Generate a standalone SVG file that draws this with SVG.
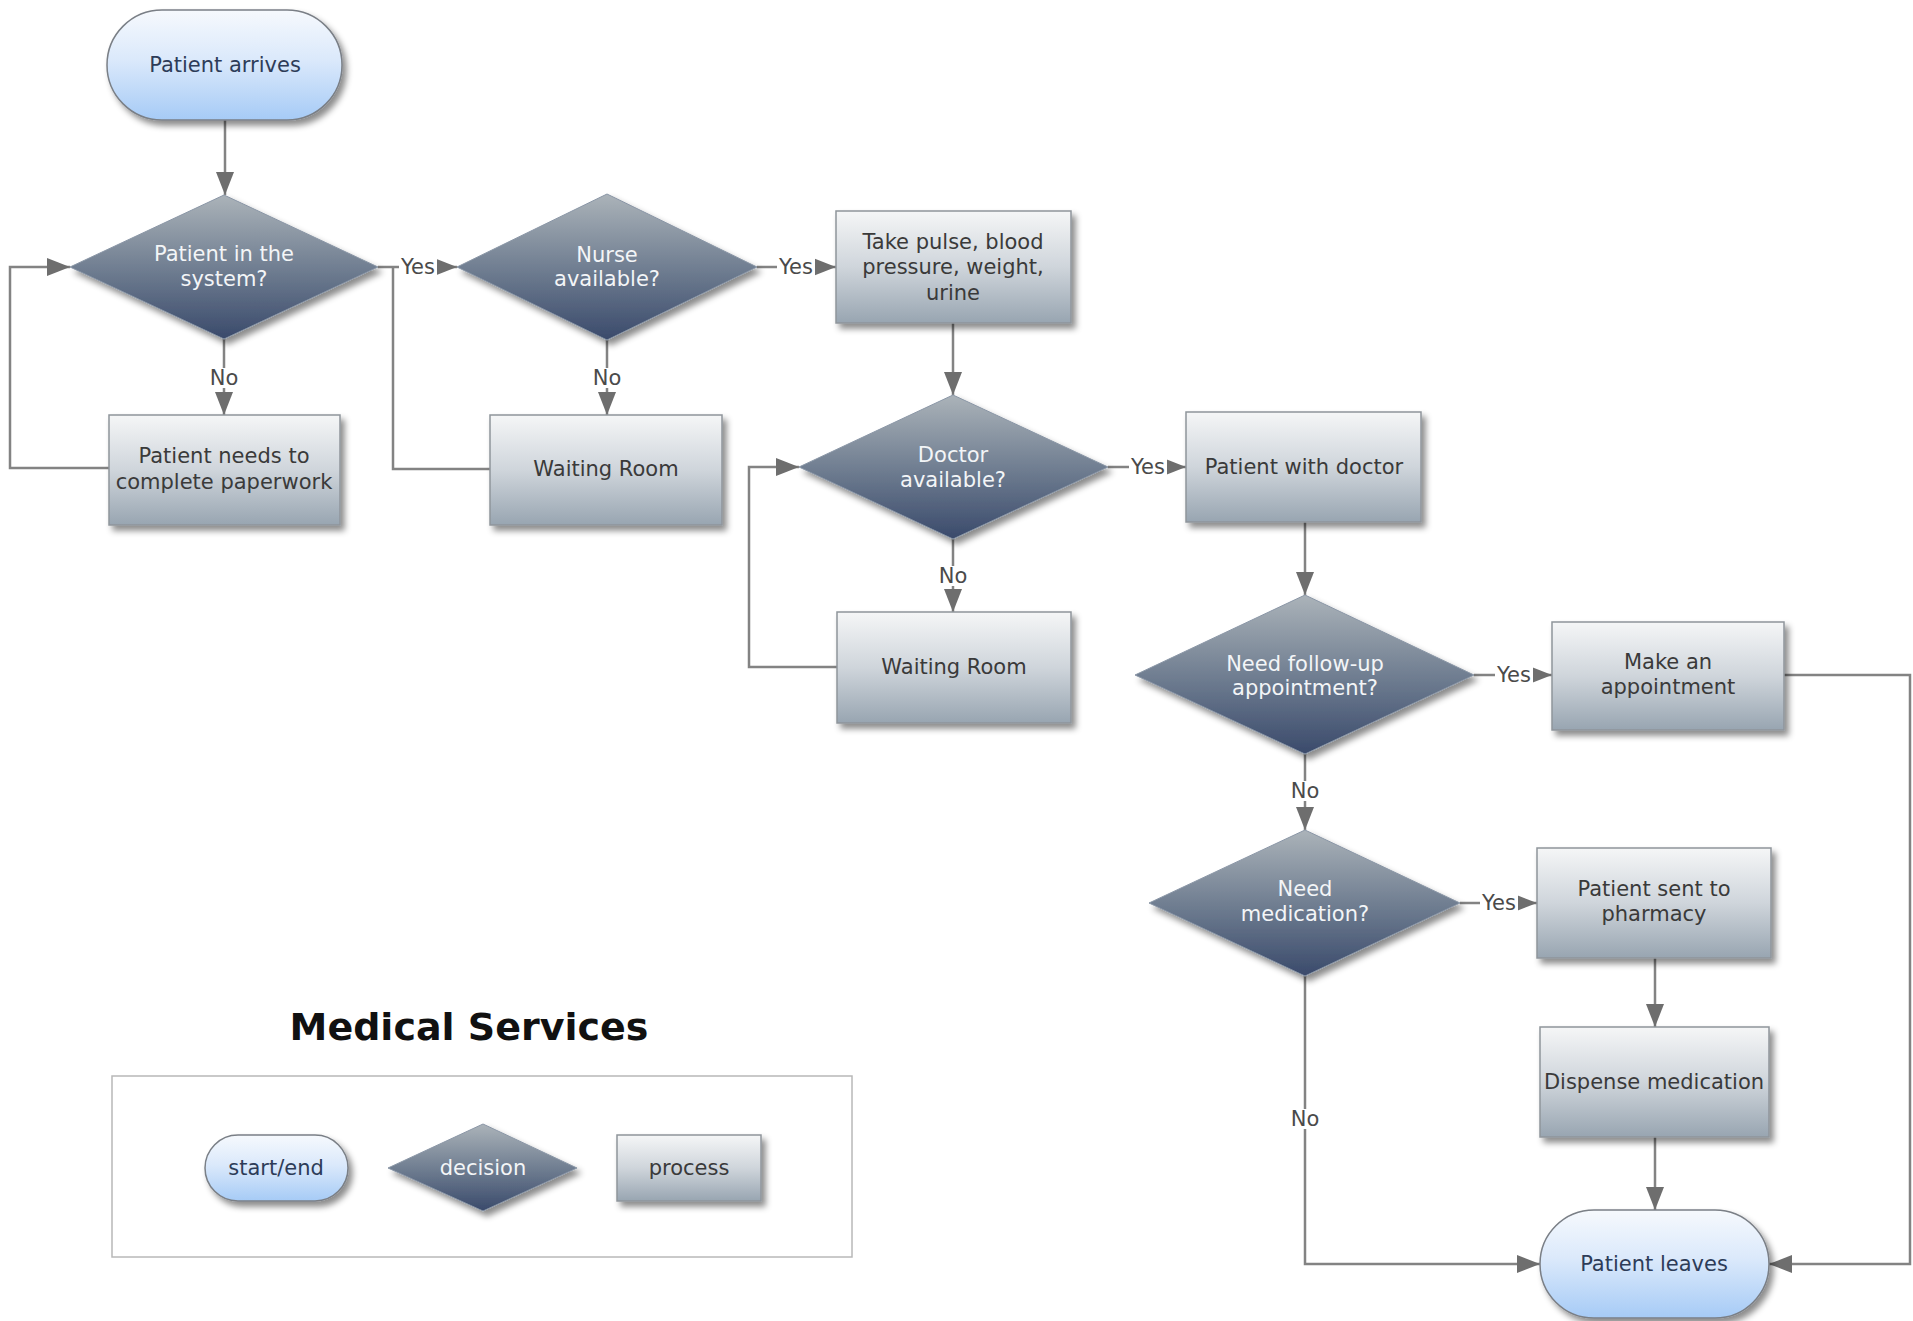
<svg xmlns="http://www.w3.org/2000/svg" width="1913" height="1321" viewBox="0 0 1913 1321">
  <defs>
    <linearGradient id="gTerm" x1="0" y1="0" x2="0" y2="1">
      <stop offset="0" stop-color="#f6f9fd"/>
      <stop offset="0.45" stop-color="#dbe9fb"/>
      <stop offset="1" stop-color="#a6cbf6"/>
    </linearGradient>
    <linearGradient id="gDec" x1="0" y1="0" x2="0" y2="1">
      <stop offset="0" stop-color="#abb3b9"/>
      <stop offset="0.5" stop-color="#717f92"/>
      <stop offset="1" stop-color="#3a4a6b"/>
    </linearGradient>
    <linearGradient id="gProc" x1="0" y1="0" x2="0" y2="1">
      <stop offset="0" stop-color="#f5f6f7"/>
      <stop offset="0.5" stop-color="#cfd5db"/>
      <stop offset="1" stop-color="#98a5b1"/>
    </linearGradient>
    <filter id="shadow" x="-10%" y="-10%" width="125%" height="130%">
      <feDropShadow dx="4" dy="5" stdDeviation="3" flood-color="#000" flood-opacity="0.45"/>
    </filter>
    <marker id="arrow" markerUnits="userSpaceOnUse" markerWidth="26" markerHeight="20" refX="23" refY="9" orient="auto">
      <path d="M0,0 L23,9 L0,18 z" fill="#6e6e6e"/>
    </marker>
  </defs>
  <style>
    .term { fill: url(#gTerm); stroke: #7a7f86; stroke-width: 1.5; filter: url(#shadow); }
    .dec { fill: url(#gDec); stroke: #8a96a6; stroke-width: 1; filter: url(#shadow); }
    .proc { fill: url(#gProc); stroke: #8f959b; stroke-width: 1.5; filter: url(#shadow); }
    .t { font-family: "DejaVu Sans", Verdana, sans-serif; font-size: 21px; text-anchor: middle; dominant-baseline: central; }
    .tt { fill: #2d3c58; }
    .td { fill: #f3f5f7; }
    .tp { fill: #3a3a3a; }
    .conn path { fill: none; stroke: #838383; stroke-width: 2.5; }
    .lbl { font-family: "DejaVu Sans", Verdana, sans-serif; font-size: 21px; fill: #4a4a4a; text-anchor: middle; dominant-baseline: central; }
    .lblbg { fill: #ffffff; }
    .legend { fill: none; stroke: #b8b8b8; stroke-width: 1.5; }
    .title { font-family: "DejaVu Sans", Verdana, sans-serif; font-size: 38px; font-weight: bold; fill: #111; text-anchor: middle; dominant-baseline: central; }
  </style>

  <rect width="1913" height="1321" fill="#ffffff"/>

  <!-- connectors -->
  <g id="connectors" class="conn">
    <path d="M225,120 V195" marker-end="url(#arrow)"/>
    <path d="M378,267 H457" marker-end="url(#arrow)"/>
    <path d="M224,339 V415" marker-end="url(#arrow)"/>
    <path d="M109,468 H10 V267 H70" marker-end="url(#arrow)"/>
    <path d="M490,469 H393 V267"/>
    <path d="M607,340 V415" marker-end="url(#arrow)"/>
    <path d="M757,267 H836" marker-end="url(#arrow)"/>
    <path d="M953,323 V395" marker-end="url(#arrow)"/>
    <path d="M1108,467 H1186" marker-end="url(#arrow)"/>
    <path d="M953,539 V612" marker-end="url(#arrow)"/>
    <path d="M837,667 H749 V467 H799" marker-end="url(#arrow)"/>
    <path d="M1305,522 V595" marker-end="url(#arrow)"/>
    <path d="M1474,675 H1552" marker-end="url(#arrow)"/>
    <path d="M1305,754 V830" marker-end="url(#arrow)"/>
    <path d="M1784,675 H1910 V1264 H1769" marker-end="url(#arrow)"/>
    <path d="M1460,903 H1537" marker-end="url(#arrow)"/>
    <path d="M1655,958 V1027" marker-end="url(#arrow)"/>
    <path d="M1655,1137 V1210" marker-end="url(#arrow)"/>
    <path d="M1305,976 V1264 H1540" marker-end="url(#arrow)"/>

    <!-- branch labels -->
    <rect class="lblbg" x="399" y="257" width="38" height="20"/>
    <text class="lbl" x="418" y="267">Yes</text>
    <rect class="lblbg" x="208" y="368" width="32" height="20"/>
    <text class="lbl" x="224" y="378">No</text>
    <rect class="lblbg" x="591" y="368" width="32" height="20"/>
    <text class="lbl" x="607" y="378">No</text>
    <rect class="lblbg" x="777" y="257" width="38" height="20"/>
    <text class="lbl" x="796" y="267">Yes</text>
    <rect class="lblbg" x="1129" y="457" width="38" height="20"/>
    <text class="lbl" x="1148" y="467">Yes</text>
    <rect class="lblbg" x="937" y="566" width="32" height="20"/>
    <text class="lbl" x="953" y="576">No</text>
    <rect class="lblbg" x="1495" y="665" width="38" height="20"/>
    <text class="lbl" x="1514" y="675">Yes</text>
    <rect class="lblbg" x="1289" y="781" width="32" height="20"/>
    <text class="lbl" x="1305" y="791">No</text>
    <rect class="lblbg" x="1480" y="893" width="38" height="20"/>
    <text class="lbl" x="1499" y="903">Yes</text>
    <rect class="lblbg" x="1289" y="1109" width="32" height="20"/>
    <text class="lbl" x="1305" y="1119">No</text>
  </g>

  <!-- flow nodes -->
  <g id="patient-arrives">
    <rect class="term" x="107" y="10" width="235" height="110" rx="55" ry="55"/>
    <text class="t tt" x="225" y="65">Patient arrives</text>
  </g>

  <g id="in-system">
    <polygon class="dec" points="70,267 224,195 378,267 224,339"/>
    <text class="t td" x="224" y="254">Patient in the</text>
    <text class="t td" x="224" y="279">system?</text>
  </g>

  <g id="paperwork">
    <rect class="proc" x="109" y="415" width="231" height="110"/>
    <text class="t tp" x="224" y="456">Patient needs to</text>
    <text class="t tp" x="224" y="482">complete paperwork</text>
  </g>

  <g id="nurse-available">
    <polygon class="dec" points="457,267 607,194 757,267 607,340"/>
    <text class="t td" x="607" y="255">Nurse</text>
    <text class="t td" x="607" y="279">available?</text>
  </g>

  <g id="waiting-room-1">
    <rect class="proc" x="490" y="415" width="232" height="110"/>
    <text class="t tp" x="606" y="469">Waiting Room</text>
  </g>

  <g id="vitals">
    <rect class="proc" x="836" y="211" width="235" height="112"/>
    <text class="t tp" x="953" y="242">Take pulse, blood</text>
    <text class="t tp" x="953" y="267">pressure, weight,</text>
    <text class="t tp" x="953" y="293">urine</text>
  </g>

  <g id="doctor-available">
    <polygon class="dec" points="799,467 953,395 1108,467 953,539"/>
    <text class="t td" x="953" y="455">Doctor</text>
    <text class="t td" x="953" y="480">available?</text>
  </g>

  <g id="waiting-room-2">
    <rect class="proc" x="837" y="612" width="234" height="111"/>
    <text class="t tp" x="954" y="667">Waiting Room</text>
  </g>

  <g id="with-doctor">
    <rect class="proc" x="1186" y="412" width="235" height="110"/>
    <text class="t tp" x="1304" y="467">Patient with doctor</text>
  </g>

  <g id="follow-up">
    <polygon class="dec" points="1135,675 1305,595 1474,675 1305,754"/>
    <text class="t td" x="1305" y="664">Need follow-up</text>
    <text class="t td" x="1305" y="688">appointment?</text>
  </g>

  <g id="make-appointment">
    <rect class="proc" x="1552" y="622" width="232" height="108"/>
    <text class="t tp" x="1668" y="662">Make an</text>
    <text class="t tp" x="1668" y="687">appointment</text>
  </g>

  <g id="need-medication">
    <polygon class="dec" points="1149,903 1305,830 1460,903 1305,976"/>
    <text class="t td" x="1305" y="889">Need</text>
    <text class="t td" x="1305" y="914">medication?</text>
  </g>

  <g id="pharmacy">
    <rect class="proc" x="1537" y="848" width="234" height="110"/>
    <text class="t tp" x="1654" y="889">Patient sent to</text>
    <text class="t tp" x="1654" y="914">pharmacy</text>
  </g>

  <g id="dispense">
    <rect class="proc" x="1540" y="1027" width="229" height="110"/>
    <text class="t tp" x="1654" y="1082">Dispense medication</text>
  </g>

  <g id="patient-leaves">
    <rect class="term" x="1540" y="1210" width="229" height="108" rx="54" ry="54"/>
    <text class="t tt" x="1654" y="1264">Patient leaves</text>
  </g>

  <!-- title and legend -->
  <g id="title">
    <text class="title" x="469" y="1027">Medical Services</text>
  </g>

  <g id="legend">
    <rect class="legend" x="112" y="1076" width="740" height="181"/>
    <g id="legend-start-end">
      <rect class="term" x="205" y="1135" width="143" height="66" rx="33" ry="33"/>
      <text class="t tt" x="276" y="1168">start/end</text>
    </g>
    <g id="legend-decision">
      <polygon class="dec" points="388,1168 483,1124 577,1168 483,1211"/>
      <text class="t td" x="483" y="1168">decision</text>
    </g>
    <g id="legend-process">
      <rect class="proc" x="617" y="1135" width="144" height="66"/>
      <text class="t tp" x="689" y="1168">process</text>
    </g>
  </g>
</svg>
